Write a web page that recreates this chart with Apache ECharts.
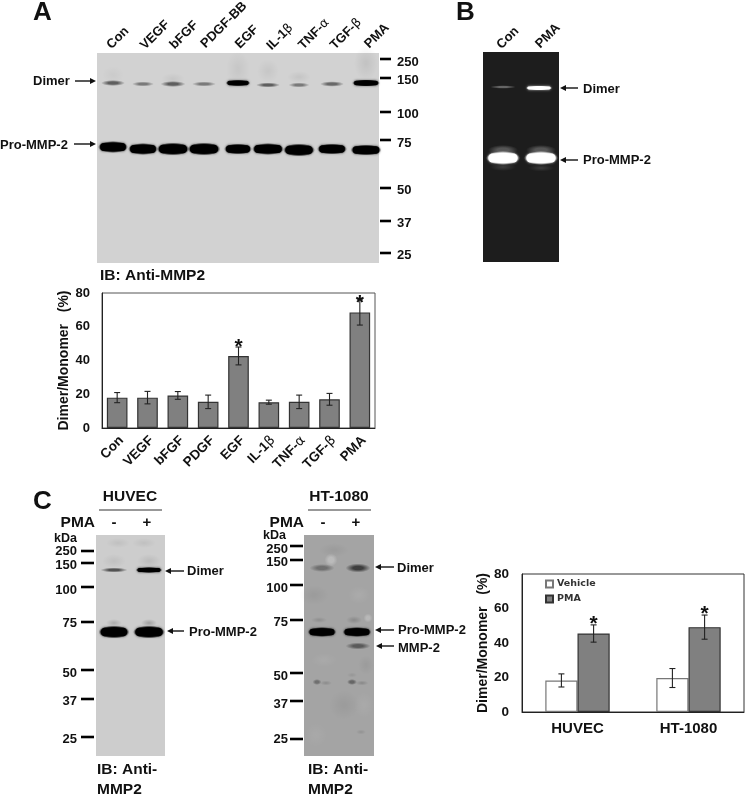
<!DOCTYPE html>
<html><head><meta charset="utf-8">
<style>html,body{margin:0;padding:0;background:#fff}#c{width:745px;height:795px}</style>
<script src="https://cdn.jsdelivr.net/npm/echarts@6/dist/echarts.min.js"></script>
</head><body><div id="c"></div>
<script>
// ---------- Bar chart data ----------
const stimuli = ['Con','VEGF','bFGF','PDGF','EGF','IL-1{g|β}','TNF-{g|α}','TGF-{g|β}','PMA'];
const stimulusRatio = [18,18,19.3,15.5,42.7,15.3,15.5,17,68.5];
const stimulusErr = [3,3.7,2.3,4,5.3,1.2,4,3.5,7.5];
const stimulusStarAt = [null,null,null,null,48,null,null,null,74];
const cellLines = ['HUVEC','HT-1080'];
const vehicleRatio = [18.3,19.7];
const vehicleErr = [3.8,5.5];
const vehicleStarAt = [null,null];
const pmaRatio = [45.5,49.2];
const pmaErr = [5,7];
const pmaStarAt = [51,56.5];
// ---------- Blot data: [x, y, width, height, intensity] within each membrane ----------
const blotALanes = [
 [16,30,24,6,.55],[46,31,22,5,.42],[76,31,25,6,.55],[107,31,24,5,.42],[141,30,25,6.5,.9],
 [171,32,24,5,.55],[202,32,21,5,.42],[235,31,24,5.5,.5],[269,30,28,7,1],
 [16,94,30,12,1],[46,96,30,12,1],[76,96,33,13,1],[107,96,33,13,1],[141,96,28,11,1],
 [171,96,32,12,1],[202,97,32,13,1],[235,96,30,11,1],[269,97,31,11,1],
 [141,16,24,36,.05],[171,18,22,24,.05],[202,24,24,12,.06],[269,10,24,36,.07],[16,22,22,18,.03],[76,26,24,12,.05]];
const blotBLanes = [
 [20,35,26,3.5,.32],[56,36,27,4.5,1],[20,106,34,14,1],[58,106,34,14,1],
 [20,98,30,10,.25],[58,98,30,10,.25],[20,115,26,8,.12],[58,116,26,7,.12]];
const blotC1Lanes = [
 [18,35,27,5,.6],[53,35,27,6,1],[18,97,31,13,1],[53,97,32,13,1],
 [22,8,24,10,.06],[48,8,24,10,.06],[18,26,24,14,.06],[53,26,24,14,.08],[53,88,16,8,.2],[18,88,16,8,.15]];
const blotC2Lanes = [
 [18,33,25,8,.32],[54,33,25,9,.62],[18,97,29,10,1],[53,97,29,10,1],[54,111,25,7,.45],
 [13,147,9,6,.32],[22,148,12,5,.14],[48,147,10,6,.38],[58,148,13,5,.16],[48,140,10,5,.08],
 [57,197,10,5,.1],[50,85,16,8,.15],[15,85,16,6,.12],
 [27,25,13,13,-.25],[64,83,9,9,-.22],[10,60,30,20,.05],[55,60,22,18,-.07],[20,125,26,14,-.06],
 [40,170,30,30,.05],[12,200,22,24,-.05],[60,170,20,26,-.06],[30,15,30,14,.05],[62,130,16,20,.05]];
const ladderA = [[250,6,9],[150,25,27],[100,59,61],[75,87,90],[50,135,137],[37,168,170],[25,200,202]];
const ladderC1 = [[250,16,16],[150,28,30],[100,52,55],[75,87,88],[50,135,138],[37,164,166],[25,202,204]];
const ladderC2 = [[250,11,14],[150,25,27],[100,50,53],[75,85,87],[50,138,141],[37,166,169],[25,204,204]];
// ---------- Annotation text ----------
const laneLabelsA = [['Con',118,38],['VEGF',155,35],['bFGF',184,35],['PDGF-BB',224,25],['EGF',247,37],['IL-1{g|β}',280,37],['TNF-{g|α}',314,34],['TGF-{g|β}',346,34],['PMA',377,36]];
const laneLabelsB = [['Con',508,38],['PMA',548,36]];

const FONT = '"Liberation Sans", Arial, sans-serif';
const INK = '#111';
const grid = [], xAxis = [], yAxis = [], series = [], graphic = [];

function text(str,x,y,size,opt){
  opt=opt||{};
  graphic.push({type:'text',x:x,y:y,rotation:opt.rot||0,z:50,silent:true,style:{
    text:str,fontFamily:FONT,fontWeight:'bold',fontSize:size,fill:INK,
    align:opt.align||'left',verticalAlign:'middle',
    rich:{g:{fontFamily:'"DejaVu Sans"',fontWeight:'normal',fontSize:size-0.5,fill:INK}}}});
}
function arrow(x0,x1,y){
  const d=x1>x0?1:-1;
  graphic.push({type:'line',z:50,silent:true,shape:{x1:x0,y1:y,x2:x1-d*3,y2:y},style:{stroke:INK,lineWidth:1.4}});
  graphic.push({type:'polygon',z:50,silent:true,shape:{points:[[x1,y],[x1-d*6,y-3],[x1-d*6,y+3]]},style:{fill:INK}});
}
function addBlot(box,bg,ink,bands,ladder,ladderCfg){
  const g=grid.length;
  grid.push({left:box[0],top:box[1],width:box[2],height:box[3],show:true,backgroundColor:bg,borderWidth:0});
  xAxis.push({gridIndex:g,type:'value',min:0,max:box[2],show:false});
  yAxis.push({gridIndex:g,type:'value',min:0,max:box[3],inverse:true,show:false});
  series.push({type:'custom',coordinateSystem:'cartesian2d',xAxisIndex:g,yAxisIndex:g,z:3,silent:true,
    data:bands,
    renderItem:function(p,api){
      const c=api.coord([api.value(0),api.value(1)]);
      const s=api.size([api.value(2),api.value(3)]);
      const w=Math.abs(s[0]),h=Math.abs(s[1]),v=api.value(4);
      const rgb=v<0?'255,255,255':ink,a=Math.abs(v);
      const col='rgba('+rgb+','+a+')';
      const core=a>0.8?0.68:(a>0.2?0.4:0.1);
      const grad=new echarts.graphic.RadialGradient(.5,.5,.5,[
        {offset:0,color:col},{offset:core,color:col},{offset:1,color:'rgba('+rgb+',0)'}]);
      const ch=[{type:'circle',x:c[0],y:c[1],scaleX:w/h,scaleY:1,shape:{cx:0,cy:0,r:h/2},style:{fill:grad}}];
      if(a>=0.8){
        const pw=w*0.86,ph=h*0.66;
        ch.push({type:'rect',shape:{x:c[0]-pw/2,y:c[1]-ph/2,width:pw,height:ph,r:ph/2},
          style:{fill:col,shadowBlur:2.5,shadowColor:col}});
      }
      return {type:'group',children:ch};
    }});
  if(ladder){
    series.push({type:'custom',coordinateSystem:'cartesian2d',xAxisIndex:g,yAxisIndex:g,z:4,silent:true,
      data:ladder,
      renderItem:function(p,api){
        const a=api.coord([ladderCfg.x0,api.value(1)]),b=api.coord([ladderCfg.x1,api.value(1)]),t=api.coord([ladderCfg.lx,api.value(2)]);
        return {type:'group',children:[
          {type:'line',shape:{x1:a[0],y1:a[1],x2:b[0],y2:b[1]},style:{stroke:'#000',lineWidth:2.6}},
          {type:'text',x:t[0],y:t[1],style:{text:String(ladder[p.dataIndex][0]),fontFamily:FONT,fontWeight:'bold',fontSize:ladderCfg.size,fill:INK,align:ladderCfg.align,verticalAlign:'middle'}}
        ]};
      }});
  }
}
function errSeries(g,values,errs,stars,offset){
  return {type:'custom',coordinateSystem:'cartesian2d',xAxisIndex:g,yAxisIndex:g,z:6,silent:true,
    data:values.map(function(v,i){return [i,v-errs[i],v+errs[i],stars[i]==null?-1:stars[i]];}),
    renderItem:function(p,api){
      const bw=api.size([1,0])[0];
      const lo=api.coord([api.value(0),api.value(1)]),hi=api.coord([api.value(0),api.value(2)]);
      const x=lo[0]+offset*bw,cap=3;
      const ch=[
        {type:'line',shape:{x1:x,y1:lo[1],x2:x,y2:hi[1]},style:{stroke:'#222',lineWidth:1.1}},
        {type:'line',shape:{x1:x-cap,y1:lo[1],x2:x+cap,y2:lo[1]},style:{stroke:'#222',lineWidth:1.1}},
        {type:'line',shape:{x1:x-cap,y1:hi[1],x2:x+cap,y2:hi[1]},style:{stroke:'#222',lineWidth:1.1}}];
      const s=api.value(3);
      if(s>=0){const st=api.coord([api.value(0),s]);
        ch.push({type:'text',x:x,y:st[1],style:{text:'*',fontFamily:FONT,fontWeight:'bold',fontSize:21,fill:INK,align:'center',verticalAlign:'middle'}});}
      return {type:'group',children:ch};
    }};
}
function valueAxis(g,margin,gap,size){
  return {gridIndex:g,type:'value',min:0,max:80,interval:20,
    name:'Dimer/Monomer   (%)',nameLocation:'middle',nameGap:gap,nameRotate:90,
    nameTextStyle:{fontFamily:FONT,fontWeight:'bold',fontSize:14,color:INK},
    axisLine:{show:true,lineStyle:{color:'#222',width:1}},axisTick:{show:false},splitLine:{show:false},
    axisLabel:{fontFamily:FONT,fontWeight:'bold',fontSize:size,color:INK,margin:margin}};
}

// Bar chart A
grid.push({left:102,top:293,width:273,height:135,show:true,borderColor:'#555',borderWidth:1,backgroundColor:'#fff'});
xAxis.push({gridIndex:0,type:'category',data:stimuli,
  axisLine:{lineStyle:{color:'#222',width:1}},axisTick:{show:false},
  axisLabel:{interval:0,rotate:45,margin:6,padding:[12,0,0,0],fontFamily:FONT,fontWeight:'bold',fontSize:13.5,color:INK,
    rich:{g:{fontFamily:'"DejaVu Sans"',fontWeight:'normal',fontSize:13.5,color:INK}}}});
yAxis.push(valueAxis(0,12,26,13));
series.push({type:'bar',name:'Stimulus',xAxisIndex:0,yAxisIndex:0,data:stimulusRatio,barWidth:'68%',z:5,silent:true,
  itemStyle:{color:'#808080',borderColor:'#333',borderWidth:1.2}});
series.push(errSeries(0,stimulusRatio,stimulusErr,stimulusStarAt,0));

// Bar chart C
grid.push({left:522,top:574,width:222,height:138,show:true,borderColor:'#333',borderWidth:1,backgroundColor:'#fff'});
xAxis.push({gridIndex:1,type:'category',data:cellLines,
  axisLine:{lineStyle:{color:'#222',width:1}},axisTick:{show:false},
  axisLabel:{interval:0,margin:9,fontFamily:FONT,fontWeight:'bold',fontSize:15,color:INK}});
yAxis.push(valueAxis(1,13,31,13.5));
series.push({type:'bar',name:'Vehicle',xAxisIndex:1,yAxisIndex:1,data:vehicleRatio,barWidth:'29%',barGap:0,z:5,silent:true,
  itemStyle:{color:'#fff',borderColor:'#777',borderWidth:1.2}});
series.push({type:'bar',name:'PMA',xAxisIndex:1,yAxisIndex:1,data:pmaRatio,barWidth:'29%',barGap:0,z:5,silent:true,
  itemStyle:{color:'#808080',borderColor:'#333',borderWidth:1.2}});
series.push(errSeries(1,vehicleRatio,vehicleErr,vehicleStarAt,-0.145));
series.push(errSeries(1,pmaRatio,pmaErr,pmaStarAt,0.145));

// Blots
addBlot([97,53,282,210],'#d2d2d2','0,0,0',blotALanes,ladderA,{x0:283,x1:294,lx:300,size:13,align:'left'});
addBlot([483,52,76,210],'#1d1d1d','255,255,255',blotBLanes);
addBlot([96,535,69,221],'#cdcdcd','0,0,0',blotC1Lanes,ladderC1,{x0:-15,x1:-2,lx:-19,size:13,align:'right'});
addBlot([304,535,70,221],'#a4a4a4','0,0,0',blotC2Lanes,ladderC2,{x0:-14,x1:-1,lx:-16,size:13,align:'right'});

// Annotations
text('A',33,13,26); text('B',456,13,26); text('C',33,502,26);
laneLabelsA.concat(laneLabelsB).forEach(function(l){text(l[0],l[1],l[2],13,{rot:Math.PI/4,align:'center'});});
text('Dimer',33,81,13); arrow(75,96,81);
text('Pro-MMP-2',0,145,13); arrow(74,96,144);
text('IB: Anti-MMP2',100,276,15.5);
text('Dimer',583,89,13); arrow(578,560,88);
text('Pro-MMP-2',583,160,13); arrow(578,560,160);
text('HUVEC',130,497,15.5,{align:'center'}); text('HT-1080',339,497,15.5,{align:'center'});
graphic.push({type:'line',z:50,silent:true,shape:{x1:99,y1:510,x2:162,y2:510},style:{stroke:'#333',lineWidth:1}});
graphic.push({type:'line',z:50,silent:true,shape:{x1:308,y1:510,x2:371,y2:510},style:{stroke:'#333',lineWidth:1}});
text('PMA',95,523,15.5,{align:'right'}); text('-',114,523,15,{align:'center'}); text('+',147,523,15,{align:'center'});
text('PMA',304,523,15.5,{align:'right'}); text('-',323,523,15,{align:'center'}); text('+',356,523,15,{align:'center'});
text('kDa',77,539,12.5,{align:'right'}); text('kDa',286,536,12.5,{align:'right'});
text('Dimer',187,571,13); arrow(184,165,571);
text('Pro-MMP-2',189,632,13); arrow(184,167,631);
text('Dimer',397,568,13); arrow(394,375,567);
text('Pro-MMP-2',398,630,13); arrow(394,375,630);
text('MMP-2',398,648,13); arrow(394,376,646);
text('IB: Anti-',97,770,15.5); text('MMP2',97,790,15.5);
text('IB: Anti-',308,770,15.5); text('MMP2',308,790,15.5);

const chart = echarts.init(document.getElementById('c'),null,{renderer:'canvas',width:745,height:795});
chart.setOption({animation:false,backgroundColor:'#fff',grid:grid,xAxis:xAxis,yAxis:yAxis,series:series,graphic:graphic,
  tooltip:{show:false},
  legend:{data:[{name:'Vehicle',icon:'rect'},{name:'PMA',icon:'rect'}],orient:'vertical',left:545,top:579,itemWidth:7,itemHeight:7,itemGap:5,
    selectedMode:false,padding:0,textStyle:{fontFamily:'"DejaVu Sans"',fontWeight:'bold',fontSize:9.5,color:'#333',padding:[0,0,0,-1]}}
});
</script></body></html>
